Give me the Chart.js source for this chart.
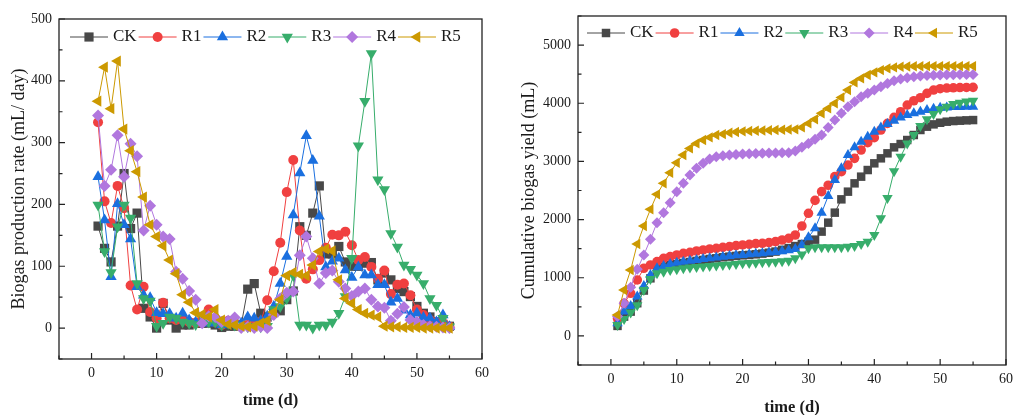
<!DOCTYPE html>
<html>
<head>
<meta charset="utf-8">
<script src="https://cdn.jsdelivr.net/npm/chart.js@4.4.1/dist/chart.umd.min.js"></script>
<style>
  html, body { margin: 0; padding: 0; background: #fff; overflow: hidden; }
  #rateChart { position: absolute; left: 0; top: 0; }
  #cumChart { position: absolute; left: 500px; top: 0; }
</style>
</head>
<body>
<canvas id="rateChart" width="500" height="415"></canvas>
<canvas id="cumChart" width="519" height="415"></canvas>
<script>
// Datos
const days = [1,2,3,4,5,6,7,8,9,10,11,12,13,14,15,16,17,18,19,20,21,22,23,24,25,26,27,28,29,30,
    31,32,33,34,35,36,37,38,39,40,41,42,43,44,45,46,47,48,49,50,51,52,53,54,55];

const seriesNames = ['CK', 'R1', 'R2', 'R3', 'R4', 'R5'];
const seriesColors = ['#484848', '#f04040', '#1a6fdf', '#37ad6b', '#b177de', '#cc9900'];
const markerStyles = ['rect', 'circle', 'triangle', 'triangle', 'rectRot', 'triangle'];
const markerRotations = [0, 0, 0, 180, 0, 270];

// Tasa de producción de biogás (mL/día)
const rateCK = [165,129,107,165,250,161,186,32,18,0, 40,13,0,5,5,8,8,8,5,1, 3,3,5,63,72,24,18,25,28,46,
    60,164,150,186,230,120,120,132,107,100, 100,105,106,78,89,78,64,59,51,35, 24,18,10,6,3];
const rateR1 = [333,205,170,230,194,69,30,67,26,16, 41,16,13,16,10,8,15,30,10,5, 12,8,3,5,8,10,45,92,138,220,
    272,158,80,95,110,130,151,150,156,134, 110,115,99,80,93,55,70,72,53,30, 21,13,9,8,2];
const rateR2 = [245,175,83,201,167,144,67,53,49,25, 23,23,16,24,13,10,10,8,10,5, 8,10,8,18,16,12,19,35,72,116,
    183,251,311,271,181,99,108,113,94,82, 99,86,86,70,70,42,48,29,21,24, 17,16,10,21,2];
const rateR3 = [199,124,90,164,199,178,72,48,44,3, 8,18,16,10,8,6,20,10,10,5, 8,5,3,2,2,2,3,30,35,48,
    85,5,5,0,5,5,10,24,51,113, 295,367,444,240,224,153,131,102,95,86, 72,48,37,16,2];
const rateR4 = [344,230,256,312,245,298,278,158,198,167, 148,144,91,80,60,46,8,19,18,10, 12,17,0,2,0,2,0,21,48,57,
    59,118,148,113,72,89,93,75,64,52, 59,64,46,35,33,12,23,34,13,10, 5,3,2,1,0];
const rateR5 = [367,422,355,432,322,287,253,212,167,148, 133,110,88,54,42,25,22,18,30,13, 6,5,3,2,3,8,12,26,46,85,
    90,87,85,102,124,128,125,78,48,40, 30,24,21,18,3,2,2,1,1,1, 0,0,0,0,0];

// Producción acumulada (mL)
const cumCK = [172,332,418,562,780,990,1163,1190,1220,1237, 1254,1271,1289,1306,1323,1334,1352,1363,1375,1386,
    1392,1403,1415,1430,1450,1480,1510,1545,1580,1620, 1655,1793,1947,2119,2348,2480,2623,2738,2852,2967,
    3053,3139,3242,3299,3368,3454,3540,3597,3637,3665, 3683,3694,3700,3706,3711];
const cumR1 = [300,560,733,962,1163,1220,1277,1334,1363,1392, 1420,1438,1460,1478,1495,1506,1523,1535,1552,1564,
    1575,1586,1592,1604,1621,1649,1678,1735,1890,2108, 2330,2480,2590,2738,2824,2938,3053,3196,3322,3408,
    3540,3654,3757,3855,3969,4043,4095,4170,4227,4250, 4261,4266,4270,4272,4273];
const cumR2 = [218,418,515,676,859,1048,1163,1203,1237,1260, 1277,1294,1306,1323,1334,1346,1363,1375,1386,1392,
    1403,1414,1420,1432,1443,1455,1472,1495,1564,1695, 1850,2119,2405,2680,2881,3110,3242,3339,3425,3511,
    3585,3643,3700,3757,3797,3826,3855,3883,3906,3923, 3929,3934,3937,3940,3940];
const cumR3 = [189,290,401,526,790,979,1077,1105,1134,1145, 1163,1175,1186,1195,1203,1212,1220,1228,1237,1249,
    1255,1260,1266,1271,1277,1283,1294,1334,1400,1506, 1523,1523,1523,1523,1526,1535,1546,1581,1621,1735,
    2022,2370,2830,3081,3310,3454,3608,3723,3814,3895, 3940,3986,4009,4030,4043];
const cumR4 = [332,561,836,1145,1392,1661,1947,2119,2291,2480, 2623,2766,2881,2967,3041,3081,3098,3110,3121,3127,
    3132,3136,3140,3143,3146,3148,3150,3179,3242,3310, 3379,3454,3585,3711,3826,3940,4026,4112,4170,4227,
    4284,4341,4387,4416,4439,4456,4467,4475,4481,4486, 4489,4492,4494,4495,4496];
const cumR5 = [361,790,1134,1581,1890,2176,2434,2623,2806,2978, 3110,3224,3310,3368,3413,3453,3470,3494,3505,3517,
    3522,3527,3532,3536,3540,3544,3548,3551,3585,3654, 3723,3826,3911,3998,4101,4227,4358,4427,4485,4530,
    4570,4599,4616,4628,4632,4635,4637,4638,4639,4639, 4639,4639,4639,4639,4639];

// Ejes y etiquetas
const timeTicks = [0, 10, 20, 30, 40, 50, 60];
const rateTicks = [0, 100, 200, 300, 400, 500];
const cumTicks = [0, 1000, 2000, 3000, 4000, 5000];
const xMin = -5, xMax = 60, xStep = 10;
const rateMin = -50, rateMax = 500, rateStep = 100;
const cumMin = -500, cumMax = 5500, cumStep = 1000;

const serif = '"Liberation Serif", "Times New Roman", serif';
const ink = '#1a1a1a';

/**
 * Marco del gráfico y marcas de los ejes hacia adentro
 */
const frameTicks = {
    id: 'frameTicks',
    afterDraw(chart, args, opts) {
        const { ctx, chartArea: a, scales: { x, y } } = chart;
        ctx.save();
        ctx.strokeStyle = '#222';
        ctx.lineWidth = 1.3;
        ctx.strokeRect(a.left, a.top, a.right - a.left, a.bottom - a.top);
        ctx.lineWidth = 1.2;
        ctx.beginPath();
        const xs = opts.xStep / 2;
        for (let v = x.min; v <= x.max + 1e-6; v += xs) {
            const px = x.getPixelForValue(v);
            const len = Math.abs(v % opts.xStep) < 1e-6 ? 6 : 3.5;
            ctx.moveTo(px, a.bottom);
            ctx.lineTo(px, a.bottom - len);
        }
        const ys = opts.yStep / 2;
        for (let v = y.min; v <= y.max + 1e-6; v += ys) {
            const py = y.getPixelForValue(v);
            const len = Math.abs(v % opts.yStep) < 1e-6 ? 6 : 3.5;
            ctx.moveTo(a.left, py);
            ctx.lineTo(a.left + len, py);
        }
        ctx.stroke();
        ctx.restore();
    },
};

/**
 * Leyenda horizontal dentro del área: línea - marcador - texto
 */
const lineLegend = {
    id: 'lineLegend',
    afterDraw(chart, args, opts) {
        const { ctx, chartArea: a } = chart;
        ctx.save();
        ctx.font = '17px ' + serif;
        ctx.textBaseline = 'middle';
        ctx.textAlign = 'left';
        let mx = a.left + opts.startX;
        const my = a.top + opts.offsetY;
        chart.data.datasets.forEach(ds => {
            ctx.strokeStyle = ds.borderColor;
            ctx.lineWidth = 1;
            ctx.beginPath();
            ctx.moveTo(mx - 19, my);
            ctx.lineTo(mx + 19, my);
            ctx.stroke();
            ctx.fillStyle = ds.backgroundColor;
            Chart.helpers.drawPoint(ctx, {
                pointStyle: ds.pointStyle,
                rotation: ds.pointRotation,
                radius: ds.pointRadius,
                borderWidth: 0,
            }, mx, my);
            ctx.fillStyle = ink;
            ctx.fillText(ds.label, mx + 24, my);
            mx += 24 + ctx.measureText(ds.label).width + 21;
        });
        ctx.restore();
    },
};

function makeDatasets(values, radii) {
    return seriesNames.map((name, i) => ({
        label: name,
        data: days.map((d, k) => ({ x: d, y: values[i][k] })),
        borderColor: seriesColors[i],
        backgroundColor: seriesColors[i],
        pointStyle: markerStyles[i],
        pointRotation: markerRotations[i],
        pointRadius: radii[i],
        pointBorderWidth: 0,
        borderWidth: 1,
        tension: 0,
        order: seriesNames.length - i,
    }));
}

function makeOptions(cfg) {
    return {
        responsive: false,
        animation: false,
        layout: { padding: cfg.padding },
        plugins: {
            legend: { display: false },
            tooltip: { enabled: false },
            frameTicks: { xStep: xStep, yStep: cfg.yStep },
            lineLegend: cfg.legend,
        },
        scales: {
            x: {
                type: 'linear',
                min: xMin,
                max: xMax,
                grid: { display: false, drawTicks: false },
                border: { display: false },
                afterBuildTicks: s => { s.ticks = timeTicks.map(v => ({ value: v })); },
                ticks: { padding: 6, color: ink, font: { family: serif, size: 14 }, callback: v => String(v) },
                title: {
                    display: true,
                    text: 'time (d)',
                    color: ink,
                    font: { family: serif, size: 16.5, weight: 'bold', lineHeight: 1 },
                    padding: { top: 0, bottom: cfg.xTitleBottom },
                },
                afterFit: s => { s.height = cfg.xHeight; },
            },
            y: {
                type: 'linear',
                min: cfg.yMin,
                max: cfg.yMax,
                grid: { display: false, drawTicks: false },
                border: { display: false },
                afterBuildTicks: s => { s.ticks = cfg.yTicks.map(v => ({ value: v })); },
                ticks: { padding: 7, color: ink, font: { family: serif, size: 14 }, callback: v => String(v) },
                title: {
                    display: true,
                    text: cfg.yTitle,
                    color: ink,
                    font: { family: serif, size: 18, lineHeight: 1.2 },
                    padding: { top: cfg.yTitleTop, bottom: 0 },
                },
                afterFit: s => { s.width = cfg.yWidth; },
            },
        },
    };
}

new Chart(document.getElementById('rateChart'), {
    type: 'line',
    data: { datasets: makeDatasets([rateCK, rateR1, rateR2, rateR3, rateR4, rateR5], [6.5, 5, 6.5, 6.5, 6, 6.5]) },
    options: makeOptions({
        padding: { top: 19, right: 18, left: 0, bottom: 0 },
        yMin: rateMin, yMax: rateMax, yStep: rateStep, yTicks: rateTicks,
        yTitle: 'Biogas production rate (mL/ day)',
        yWidth: 59, xHeight: 56, yTitleTop: 8, xTitleBottom: 6,
        legend: { startX: 30, offsetY: 18 },
    }),
    plugins: [frameTicks, lineLegend],
});

new Chart(document.getElementById('cumChart'), {
    type: 'line',
    data: { datasets: makeDatasets([cumCK, cumR1, cumR2, cumR3, cumR4, cumR5], [6, 4.8, 6, 6, 5.5, 6]) },
    options: makeOptions({
        padding: { top: 16, right: 7, left: 0, bottom: 0 },
        yMin: cumMin, yMax: cumMax, yStep: cumStep, yTicks: cumTicks,
        yTitle: 'Cumulative biogas yield (mL)',
        yWidth: 78, xHeight: 50, yTitleTop: 18, xTitleBottom: -1,
        legend: { startX: 28, offsetY: 17 },
    }),
    plugins: [frameTicks, lineLegend],
});
</script>
</body>
</html>
